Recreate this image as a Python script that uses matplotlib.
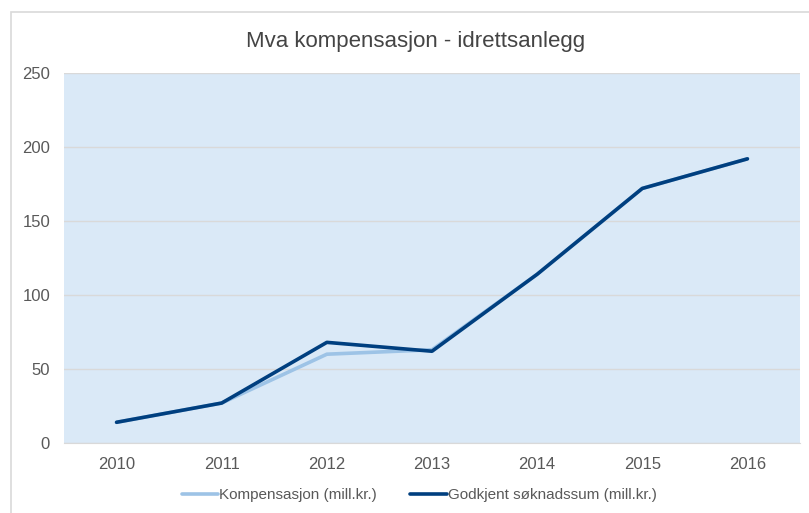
import matplotlib
matplotlib.use("Agg")
import matplotlib.pyplot as plt
from matplotlib.patches import Rectangle

plt.rcParams['font.family'] = ['Liberation Sans', 'DejaVu Sans']

years = ['2010', '2011', '2012', '2013', '2014', '2015', '2016']
kompensasjon = [14, 27, 60, 63, 114, 172, 192]
godkjent = [14, 27, 68, 62, 114, 172, 192]
yticks = [0, 50, 100, 150, 200, 250]

fig = plt.figure(figsize=(8.09, 5.13), dpi=100)
# outer chart frame (runs off the right and bottom edges)
fig.patches.append(Rectangle((11 / 809, -0.1), 1.2, 1 - 12 / 513 + 0.1,
                             transform=fig.transFigure, fill=False,
                             edgecolor='#d9d9d9', linewidth=1.2))

ax = fig.add_axes([64 / 809, 70 / 513, 736 / 809, 370 / 513])
ax.set_facecolor('#dae9f7')

x = range(len(years))
ax.plot(x, kompensasjon, color='#9dc3e6', linewidth=2.6,
        solid_capstyle='round', label='Kompensasjon (mill.kr.)')
ax.plot(x, godkjent, color='#003f7f', linewidth=2.6,
        solid_capstyle='round', label='Godkjent søknadssum (mill.kr.)')

ax.set_xlim(-0.5, len(years) - 0.5)
ax.set_ylim(0, 250)
ax.set_xticks(list(x))
ax.set_xticklabels(years)
ax.set_yticks(yticks)
ax.grid(axis='y', color='#d9d9d9', linewidth=1)
ax.set_axisbelow(True)
for side in ['top', 'right', 'left']:
    ax.spines[side].set_visible(False)
ax.spines['bottom'].set_color('#d9d9d9')
ax.tick_params(axis='both', length=0, labelsize=12, colors='#595959')
ax.tick_params(axis='x', pad=10)
ax.tick_params(axis='y', pad=10)

fig.text(0.514, 1 - 42 / 513, 'Mva kompensasjon - idrettsanlegg',
         ha='center', va='center', fontsize=16, color='#444444')

fig.legend(loc='center', bbox_to_anchor=(0.518, 1 - 495 / 513), ncol=2,
           frameon=False, fontsize=11, handlelength=2.4,
           handletextpad=0.05, columnspacing=2.2, labelcolor='#595959')

fig.savefig('out.png', dpi=100)
